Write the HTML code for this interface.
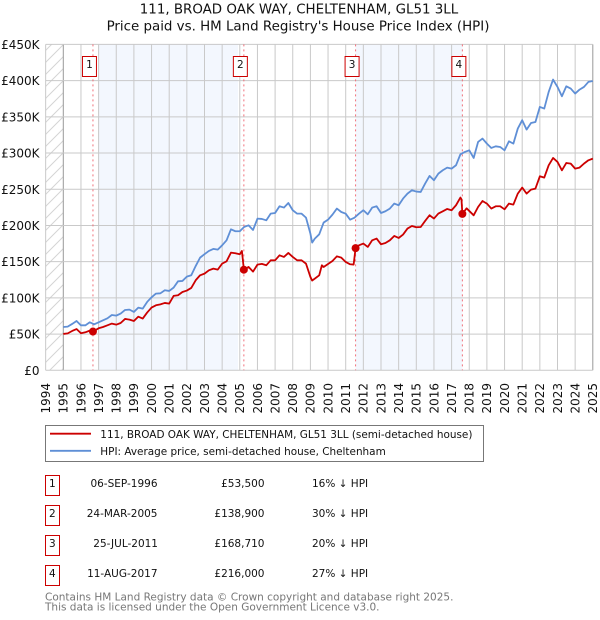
<!DOCTYPE html>
<html lang="en">
<head>
<meta charset="utf-8">
<title>111, BROAD OAK WAY, CHELTENHAM, GL51 3LL</title>
<style>
html,body{margin:0;padding:0;background:#fff;}
svg{display:block;}
text{font-family:"DejaVu Sans","Liberation Sans",sans-serif;fill:#111;}
</style>
</head>
<body>
<svg id="chart" xmlns="http://www.w3.org/2000/svg" width="600" height="620" viewBox="0 0 600 620">
  <defs>
    <pattern id="hatch" patternUnits="userSpaceOnUse" width="12" height="12">
      <path d="M-1 13 L13 -1 M-1 1 L1 -1 M11 13 L13 11" stroke="#d4d4d4" stroke-width="1" fill="none"/>
    </pattern>
  </defs>
  <text x="299" y="13.5" font-size="13.4" text-anchor="middle">111, BROAD OAK WAY, CHELTENHAM, GL51 3LL</text>
  <text x="298" y="30.5" font-size="13.4" text-anchor="middle">Price paid vs. HM Land Registry's House Price Index (HPI)</text>
  <g id="plot"></g>

  <g>
    <rect x="45.5" y="425.5" width="438" height="36" fill="#fff" stroke="#777" stroke-width="1"/>
    <line x1="50" y1="433.7" x2="91" y2="433.7" stroke="#cc0000" stroke-width="1.8"/>
    <text x="100.3" y="438" font-size="10.45">111, BROAD OAK WAY, CHELTENHAM, GL51 3LL (semi-detached house)</text>
    <line x1="50" y1="450.8" x2="91" y2="450.8" stroke="#5f8fd6" stroke-width="1.8"/>
    <text x="100.3" y="455" font-size="10.45">HPI: Average price, semi-detached house, Cheltenham</text>
  </g>

  <g>
    <g>
      <rect x="45.5" y="475.5" width="14" height="20" fill="#fff" stroke="#cc0000" stroke-width="1"/>
      <text x="52.3" y="487" text-anchor="middle" font-size="10.5">1</text>
      <text x="157.5" y="487" text-anchor="end" font-size="10.5">06-SEP-1996</text>
      <text x="264.5" y="487" text-anchor="end" font-size="10.5">£53,500</text>
      <text x="312" y="487" font-size="10.5">16% ↓ HPI</text>
    </g>
    <g>
      <rect x="45.5" y="505.5" width="14" height="20" fill="#fff" stroke="#cc0000" stroke-width="1"/>
      <text x="52.3" y="517" text-anchor="middle" font-size="10.5">2</text>
      <text x="157.5" y="517" text-anchor="end" font-size="10.5">24-MAR-2005</text>
      <text x="264.5" y="517" text-anchor="end" font-size="10.5">£138,900</text>
      <text x="312" y="517" font-size="10.5">30% ↓ HPI</text>
    </g>
    <g>
      <rect x="45.5" y="535.5" width="14" height="20" fill="#fff" stroke="#cc0000" stroke-width="1"/>
      <text x="52.3" y="547" text-anchor="middle" font-size="10.5">3</text>
      <text x="158" y="547" text-anchor="end" font-size="10.5">25-JUL-2011</text>
      <text x="264.5" y="547" text-anchor="end" font-size="10.5">£168,710</text>
      <text x="312" y="547" font-size="10.5">20% ↓ HPI</text>
    </g>
    <g>
      <rect x="45.5" y="565.5" width="14" height="20" fill="#fff" stroke="#cc0000" stroke-width="1"/>
      <text x="52.3" y="577" text-anchor="middle" font-size="10.5">4</text>
      <text x="157.5" y="577" text-anchor="end" font-size="10.5">11-AUG-2017</text>
      <text x="264.5" y="577" text-anchor="end" font-size="10.5">£216,000</text>
      <text x="312" y="577" font-size="10.5">27% ↓ HPI</text>
    </g>
  </g>

  <text x="45" y="600.5" font-size="10.5" style="fill:#777">Contains HM Land Registry data © Crown copyright and database right 2025.</text>
  <text x="45" y="610.5" font-size="10.5" style="fill:#777">This data is licensed under the Open Government Licence v3.0.</text>
</svg>

<script>
const yearTicks = [1994,1995,1996,1997,1998,1999,2000,2001,2002,2003,2004,2005,2006,2007,2008,2009,2010,2011,2012,2013,2014,2015,2016,2017,2018,2019,2020,2021,2022,2023,2024,2025];
const priceTicks = [0,50,100,150,200,250,300,350,400,450];
const priceTickLabels = ['£0','£50K','£100K','£150K','£200K','£250K','£300K','£350K','£400K','£450K'];

const hpiDates = [1995,1995.25,1995.5,1995.75,1996,1996.25,1996.5,1996.75,1997,1997.25,1997.5,1997.75,1998,1998.25,1998.5,1998.75,1999,1999.25,1999.5,1999.75,2000,2000.25,2000.5,2000.75,2001,2001.25,2001.5,2001.75,2002,2002.25,2002.5,2002.75,2003,2003.25,2003.5,2003.75,2004,2004.25,2004.5,2004.75,2005,2005.25,2005.5,2005.75,2006,2006.25,2006.5,2006.75,2007,2007.25,2007.5,2007.75,2008,2008.25,2008.5,2008.75,2009,2009.1,2009.25,2009.5,2009.75,2010,2010.25,2010.5,2010.75,2011,2011.25,2011.5,2011.75,2012,2012.25,2012.5,2012.75,2013,2013.25,2013.5,2013.75,2014,2014.25,2014.5,2014.75,2015,2015.25,2015.5,2015.75,2016,2016.25,2016.5,2016.75,2017,2017.25,2017.5,2017.75,2018,2018.25,2018.5,2018.75,2019,2019.25,2019.5,2019.75,2020,2020.25,2020.5,2020.75,2021,2021.25,2021.5,2021.75,2022,2022.25,2022.5,2022.75,2023,2023.25,2023.5,2023.75,2024,2024.25,2024.5,2024.75,2025];
const hpiValues = [59.8,60.3,64,68.1,62.1,62.1,66.3,63.5,66.3,69,71.8,76.4,75.5,78.3,83.3,83.8,80.6,86.5,85.2,94.4,100.8,105.9,106.3,110.5,109.6,114.2,122.9,123.4,129.3,131.2,144,155.6,160.3,164.8,167.6,166.6,172.6,179.5,194.7,192,192,198,200.2,193.8,209.4,209,207.1,216.3,217.2,226.5,224.7,231,221,216.3,216.3,210.8,188.7,176.3,181.8,187.8,204,208,215,223.3,218.6,216.3,208,210.8,216.3,221,215.4,224.7,226.5,217.2,219.6,223.3,230.2,227.9,237.1,244,248.6,246.8,246.3,257.8,268.4,262.4,271.6,276.2,279.9,278.5,283.1,298.3,301.5,303.8,293.2,315.3,320,313,307,309.3,308.4,303.8,316.2,313,333.8,345.3,332.4,341.5,342.9,363.7,361.4,384.4,401.4,391.3,378.4,392.2,389,382.1,387.6,391.3,398.2,399.5];

const paidDates = [1995,1995.25,1995.5,1995.75,1996,1996.25,1996.5,1996.68,1997,1997.25,1997.5,1997.75,1998,1998.25,1998.5,1998.75,1999,1999.25,1999.5,1999.75,2000,2000.25,2000.5,2000.75,2001,2001.25,2001.5,2001.75,2002,2002.25,2002.5,2002.75,2003,2003.25,2003.5,2003.75,2004,2004.25,2004.5,2004.75,2005,2005.12,2005.23,2005.5,2005.75,2006,2006.25,2006.5,2006.75,2007,2007.25,2007.5,2007.75,2008,2008.25,2008.5,2008.75,2009,2009.1,2009.25,2009.5,2009.65,2009.75,2010,2010.25,2010.5,2010.75,2011,2011.25,2011.45,2011.56,2011.75,2012,2012.25,2012.5,2012.75,2013,2013.25,2013.5,2013.75,2014,2014.25,2014.5,2014.75,2015,2015.25,2015.5,2015.75,2016,2016.25,2016.5,2016.75,2017,2017.25,2017.5,2017.56,2017.61,2017.85,2018.25,2018.5,2018.75,2019,2019.25,2019.5,2019.75,2020,2020.25,2020.5,2020.75,2021,2021.25,2021.5,2021.75,2022,2022.25,2022.5,2022.75,2023,2023.25,2023.5,2023.75,2024,2024.25,2024.5,2024.75,2025];
const paidValues = [50.2,51,54.3,57,51.1,52.5,54.8,53.5,58,59.8,62.1,64.5,63,65.3,70.9,70,68.1,74.1,71.4,79.7,86.6,89.8,91.1,93,92.1,102.7,103.6,108.1,110.1,113.7,124.3,131.2,133.5,138.1,140.4,139,147.3,150.5,162.5,161.6,160.2,164.8,138.9,142.7,136.3,145.9,146.9,145,151.9,151.9,158.8,156.5,162,156.5,151.9,151.9,147.3,128.9,123.9,126.6,131.2,145,142.7,146.8,151,157.4,155.6,149.6,146.4,146,168.7,172.6,175,170.3,179.5,181.9,174,175.8,179.5,185.5,182.7,187.4,195.7,199.3,197.5,197.9,206.2,214.1,209.5,216.4,219.6,222.8,221,227.9,238.5,236,216,223.7,214,225.5,233.8,230.2,223.3,226.5,226.5,222.3,230.2,228.8,244,252.3,244,249.5,250.9,267.9,266.1,283.1,293.2,287.7,276.2,286.3,285.4,278.5,279.9,285.4,290,292.3];

const saleDates = [1996.68,2005.23,2011.56,2017.61];
const salePrices = [53.5,138.9,168.71,216];
const saleLabels = ['1','2','3','4'];
const bandStarts = [1997,2011.56];
const bandEnds = [2004.9,2017.61];

const NS = 'http://www.w3.org/2000/svg';
const plot = document.getElementById('plot');
const xScale = function (year) { return 63.3 + (year - 1995) * 17.65; };
const yScale = function (k) { return 370.3 - k * 0.7242; };
const plotLeft = xScale(1994);
const plotRight = xScale(2025);
const plotTop = yScale(450);
const plotBottom = yScale(0);

function make(tag, attrs, text) {
  const el = document.createElementNS(NS, tag);
  Object.keys(attrs).forEach(function (k) { el.setAttribute(k, attrs[k]); });
  if (text !== undefined) { el.textContent = text; }
  plot.appendChild(el);
  return el;
}

bandStarts.forEach(function (start, i) {
  const band = make('rect', { x: xScale(start), y: plotTop, width: xScale(bandEnds[i]) - xScale(start), height: plotBottom - plotTop, fill: '#f3f7fe' });
  
  
});

const hatch = make('rect', { x: plotLeft, y: plotTop, width: xScale(1995) - plotLeft, height: plotBottom - plotTop, fill: 'url(#hatch)' });



yearTicks.forEach(function (year) {
  const line = make('line', { x1: xScale(year), x2: xScale(year), y1: plotTop, y2: plotBottom, stroke: (year === 1995 || year === 2025) ? '#999' : '#c9c9c9', 'stroke-width': 1 });
  
  
  const tx = xScale(year) + 4.3;
  const label = make('text', { x: tx, y: 383, 'font-size': 12, 'text-anchor': 'end', transform: 'rotate(-90 ' + tx + ' 383)' }, String(year));
  
  
});

priceTicks.forEach(function (k, i) {
  const line = make('line', { x1: plotLeft, x2: plotRight, y1: yScale(k), y2: yScale(k), stroke: '#c9c9c9', 'stroke-width': 1 });
  
  
  const label = make('text', { x: 39.5, y: yScale(k) + 4.5, 'font-size': 12, 'text-anchor': 'end' }, priceTickLabels[i]);
  
  
});

saleDates.forEach(function (d) {
  const line = make('line', { x1: xScale(d), x2: xScale(d), y1: plotTop, y2: plotBottom, stroke: '#f0707a', 'stroke-width': 1, 'stroke-dasharray': '2 3' });
  
  
});

function linePoints(dates, values) {
  return dates.map(function (d, i) { return xScale(d).toFixed(2) + ',' + yScale(values[i]).toFixed(2); }).join(' ');
}

const hpiLine = make('polyline', { points: linePoints(hpiDates, hpiValues), fill: 'none', stroke: '#5f8fd6', 'stroke-width': 1.8, 'stroke-linejoin': 'round' });



const paidLine = make('polyline', { points: linePoints(paidDates, paidValues), fill: 'none', stroke: '#cc0000', 'stroke-width': 1.8, 'stroke-linejoin': 'round' });



saleDates.forEach(function (d, i) {
  const dot = make('circle', { cx: xScale(d), cy: yScale(salePrices[i]), r: 4, fill: '#cc0000' });
  
  
  const box = make('rect', { x: xScale(d) - 10.5, y: 56.5, width: 14, height: 20, fill: '#fff', stroke: '#cc0000', 'stroke-width': 1 });
  
  
  const num = make('text', { x: xScale(d) - 3.5, y: 68, 'font-size': 10.5, 'text-anchor': 'middle' }, saleLabels[i]);
  
  
});
</script>
</body>
</html>
